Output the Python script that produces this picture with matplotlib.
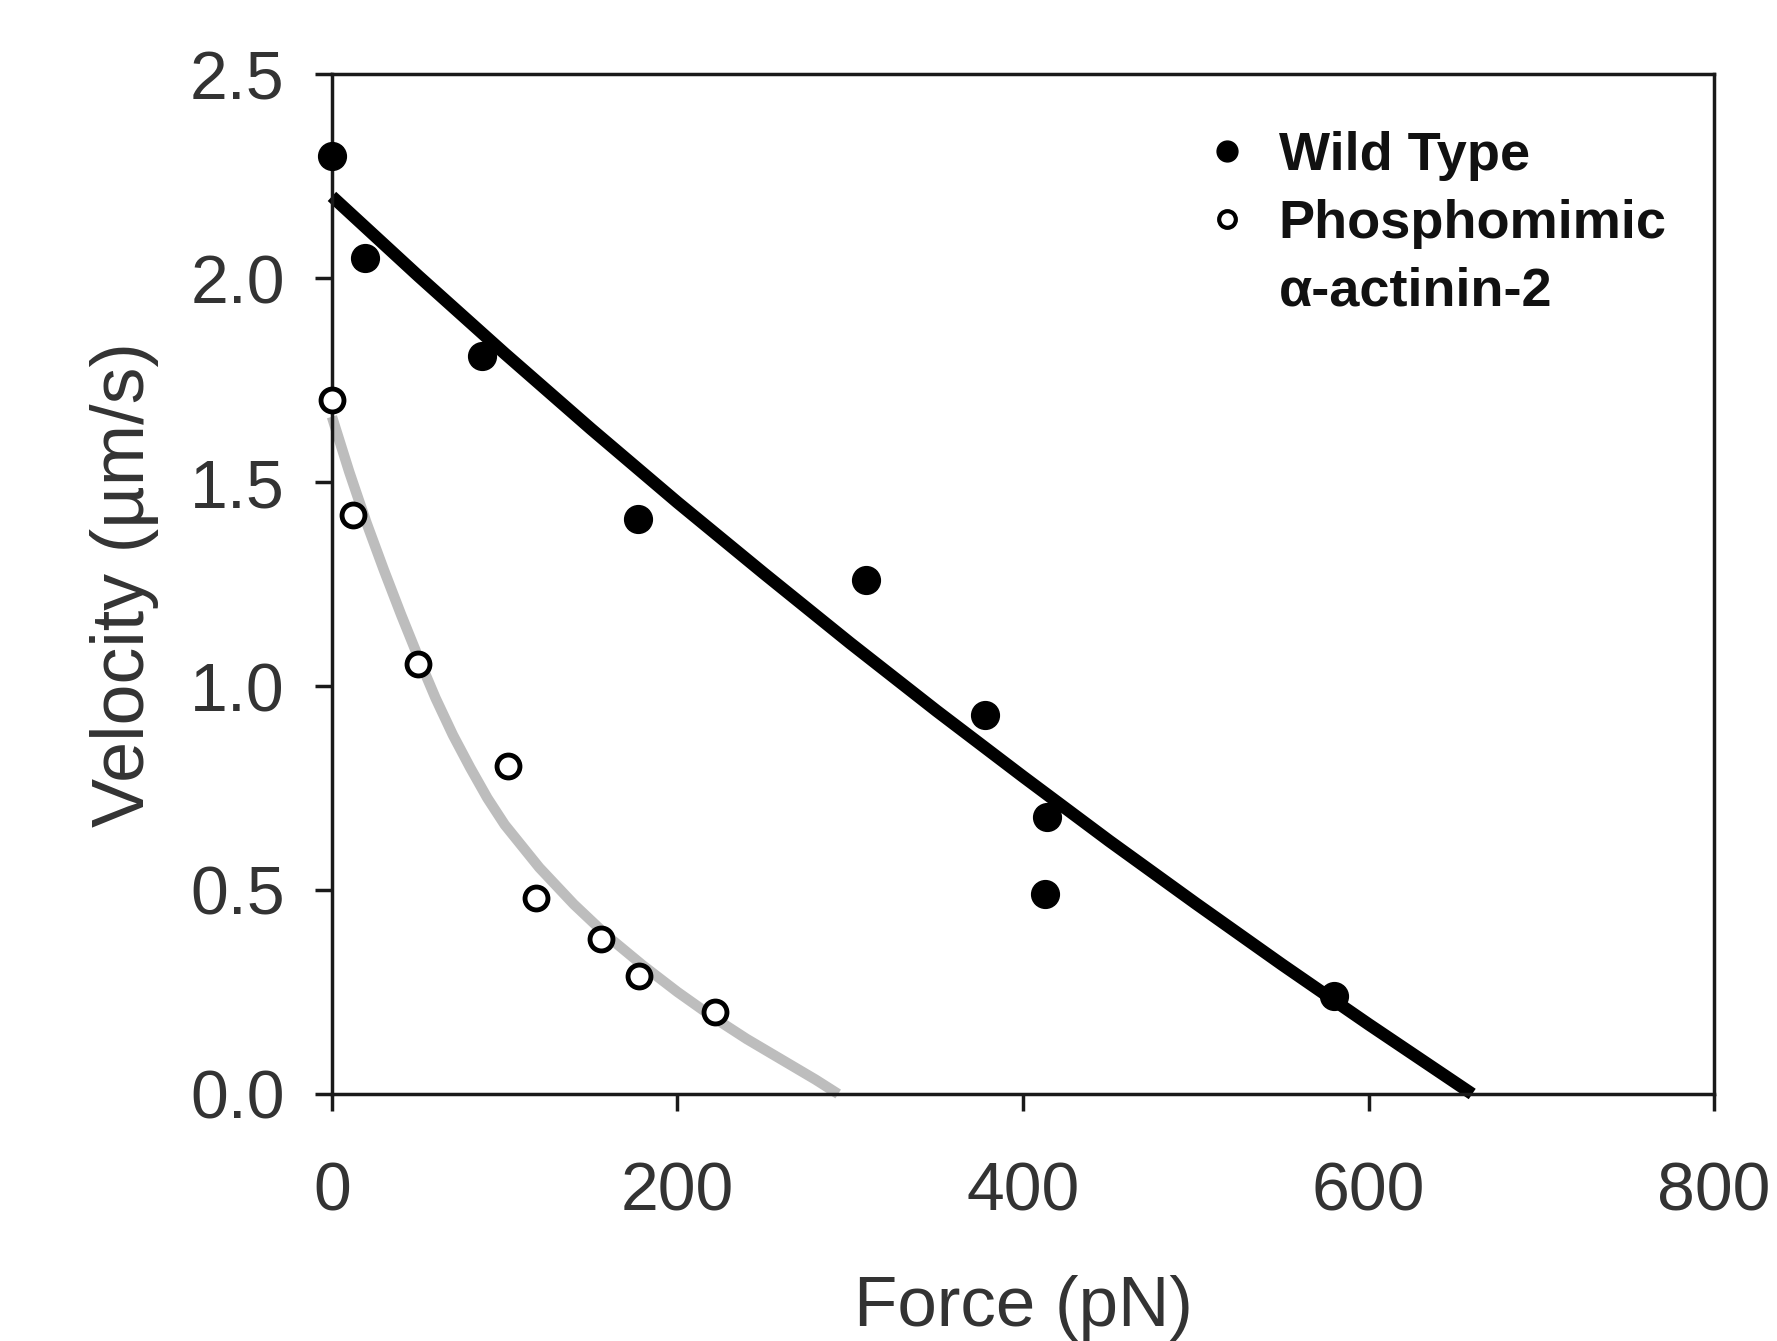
import matplotlib
matplotlib.use("Agg")
import matplotlib.pyplot as plt
from matplotlib.lines import Line2D

plt.rcParams['font.family'] = ['Liberation Sans', 'DejaVu Sans']

# ---- data ----
wt_force = [0, 19, 87, 177, 309, 378, 414, 413, 580]
wt_velocity = [2.30, 2.05, 1.81, 1.41, 1.26, 0.93, 0.68, 0.49, 0.24]

ph_force = [0, 12, 50, 102, 118, 156, 178, 222]
ph_velocity = [1.70, 1.42, 1.055, 0.805, 0.48, 0.38, 0.29, 0.20]

wt_fit_force = [0, 50, 100, 150, 200, 250, 300, 350, 400, 450, 500, 550, 600, 660]
wt_fit_velocity = [2.20, 2.005, 1.815, 1.630, 1.450, 1.276, 1.105, 0.939, 0.778, 0.620, 0.467, 0.317, 0.171, 0.0]

ph_fit_force = [0, 10, 20, 30, 40, 50, 60, 70, 80, 90, 100, 120, 140, 160, 180, 200, 220, 240, 260, 280, 293]
ph_fit_velocity = [1.66, 1.525, 1.40, 1.285, 1.175, 1.07, 0.97, 0.88, 0.80, 0.725, 0.66, 0.555, 0.465,
                   0.385, 0.315, 0.25, 0.19, 0.135, 0.085, 0.035, 0.0]

x_ticks = [0, 200, 400, 600, 800]
y_ticks = [0.0, 0.5, 1.0, 1.5, 2.0, 2.5]
legend_labels = ["Wild Type", "Phosphomimic", "α-actinin-2"]

# ---- figure ----
fig = plt.figure(figsize=(17.77, 13.41), dpi=100)
ax = fig.add_axes([0.1868, 0.1842, 0.9646 - 0.1868, 0.9448 - 0.1842])

ax.plot(ph_fit_force, ph_fit_velocity, color='#bdbdbd', lw=7.5, solid_capstyle='butt',
        solid_joinstyle='round', zorder=2, clip_on=False)
ax.plot(wt_fit_force, wt_fit_velocity, color='black', lw=9, solid_capstyle='butt',
        solid_joinstyle='round', zorder=2, clip_on=False)

ax.plot(wt_force, wt_velocity, linestyle='none', marker='o', ms=20, mfc='black', mec='black',
        zorder=3, clip_on=False)
ax.plot(ph_force, ph_velocity, linestyle='none', marker='o', ms=16.5, mfc='white', mec='black', mew=3.5,
        zorder=3, clip_on=False)

ax.set_xlim(0, 800)
ax.set_ylim(0, 2.5)
ax.set_xticks(x_ticks)
ax.set_yticks(y_ticks)
ax.set_xticklabels([str(t) for t in x_ticks])
ax.set_yticklabels([f"{t:.1f}" for t in y_ticks])

for s in ax.spines.values():
    s.set_linewidth(2.5)
    s.set_color('#1a1a1a')

ax.tick_params(axis='both', direction='out', length=12, width=2.5, color='#1a1a1a',
               labelsize=49, labelcolor='#333333')
ax.tick_params(axis='x', pad=36)
ax.tick_params(axis='y', pad=22)

ax.set_xlabel("Force (pN)", fontsize=51, color='#333333', labelpad=36)
ax.set_ylabel("Velocity (µm/s)", fontsize=53, color='#333333', labelpad=22)

handles = [
    Line2D([], [], linestyle='none', marker='o', ms=15, mfc='black', mec='black'),
    Line2D([], [], linestyle='none', marker='o', ms=12, mfc='white', mec='black', mew=3),
    Line2D([], [], linestyle='none', marker=None),
]
leg = ax.legend(handles, legend_labels, loc='upper left', bbox_to_anchor=(0.632, 0.944),
                frameon=False, prop={'weight': 'bold', 'size': 39},
                handlelength=0.8, handletextpad=0.55, labelspacing=0.33,
                borderpad=0, borderaxespad=0)
for t in leg.get_texts():
    t.set_color('#111111')

fig.savefig("out.png", dpi=100, facecolor='white')
